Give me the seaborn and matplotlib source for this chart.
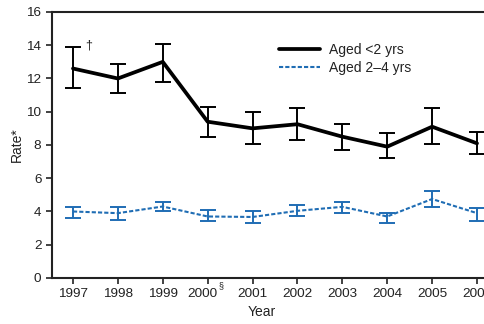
import matplotlib
matplotlib.use("Agg")
import matplotlib.pyplot as plt
import matplotlib.transforms as mtransforms
import seaborn as sns
import pandas as pd

years = [1997, 1998, 1999, 2000, 2001, 2002, 2003, 2004, 2005, 2006]
year_labels = ["1997", "1998", "1999", "2000", "2001", "2002", "2003", "2004", "2005", "2006"]

# aged <2 yrs
rate_under2 = [12.6, 12.0, 13.0, 9.4, 9.0, 9.25, 8.5, 7.9, 9.1, 8.1]
low_under2 = [11.4, 11.1, 11.8, 8.5, 8.07, 8.3, 7.7, 7.2, 8.07, 7.45]
high_under2 = [13.9, 12.9, 14.1, 10.3, 10.0, 10.2, 9.27, 8.7, 10.2, 8.8]

# aged 2-4 yrs
rate_2to4 = [4.0, 3.9, 4.3, 3.7, 3.67, 4.04, 4.28, 3.7, 4.75, 3.9]
low_2to4 = [3.6, 3.5, 4.0, 3.4, 3.3, 3.7, 3.9, 3.3, 4.3, 3.4]
high_2to4 = [4.3, 4.3, 4.6, 4.1, 4.04, 4.4, 4.6, 3.9, 5.24, 4.2]

blue = "#1f6db4"
ink = "#222222"

sns.set_style("ticks")
plt.rcParams["font.family"] = ["Liberation Sans", "DejaVu Sans"]

df = pd.DataFrame({
    "year": years * 2,
    "rate": rate_under2 + rate_2to4,
    "group": ["Aged <2 yrs"] * 10 + ["Aged 2\u20134 yrs"] * 10,
})

fig = plt.figure(figsize=(4.85, 3.24), dpi=100)
ax = fig.add_axes([0.107, 0.142, 0.92, 0.821])

sns.lineplot(data=df[df.group == "Aged <2 yrs"], x="year", y="rate", color="black",
             lw=2.7, ax=ax, label="Aged <2 yrs")
sns.lineplot(data=df[df.group != "Aged <2 yrs"], x="year", y="rate", color=blue,
             lw=1.5, ls=(0, (2, 1)), ax=ax, label="Aged 2\u20134 yrs")

ax.errorbar(years, rate_under2,
            yerr=[[r - l for r, l in zip(rate_under2, low_under2)],
                  [h - r for r, h in zip(rate_under2, high_under2)]],
            fmt="none", ecolor="black", elinewidth=1.4, capsize=6, capthick=1.4)
ax.errorbar(years, rate_2to4,
            yerr=[[r - l for r, l in zip(rate_2to4, low_2to4)],
                  [h - r for r, h in zip(rate_2to4, high_2to4)]],
            fmt="none", ecolor=blue, elinewidth=1.4, capsize=6, capthick=1.4)

ax.text(1997.27, 14.0, "\u2020", fontsize=9, ha="left", va="center", color=ink)

ax.set_xlim(1996.53, 2006.47)
ax.set_ylim(0, 16)
ax.set_yticks(range(0, 17, 2))
ax.set_xticks(years)
ax.set_xticklabels(year_labels)
ax.tick_params(labelsize=9.7, length=4, width=1.2, colors=ink)

# 2000 label is shifted left to make room for the section sign
lbl = ax.get_xticklabels()[3]
lbl.set_transform(lbl.get_transform() + mtransforms.ScaledTranslation(-4 / 72, 0, fig.dpi_scale_trans))
trans = mtransforms.blended_transform_factory(ax.transData, ax.transAxes)
ax.text(2000.24, -0.013, "\u00a7", transform=trans, fontsize=6.5, ha="left", va="top", color=ink)

ax.set_xlabel("Year", fontsize=10, color=ink)
ax.xaxis.set_label_coords(0.47, -0.1)
ax.set_ylabel("Rate*", fontsize=10, color=ink)
ax.yaxis.set_label_coords(-0.062, 0.5)
for s in ["left", "bottom", "top"]:
    ax.spines[s].set_linewidth(1.5)
    ax.spines[s].set_color(ink)
ax.spines["right"].set_visible(False)

leg = ax.legend(loc="upper left", bbox_to_anchor=(0.48, 0.93), frameon=False,
                fontsize=10, handlelength=3.0, labelspacing=0.3, handletextpad=0.6)
for t in leg.get_texts():
    t.set_color(ink)

fig.savefig("out.png", dpi=100)
